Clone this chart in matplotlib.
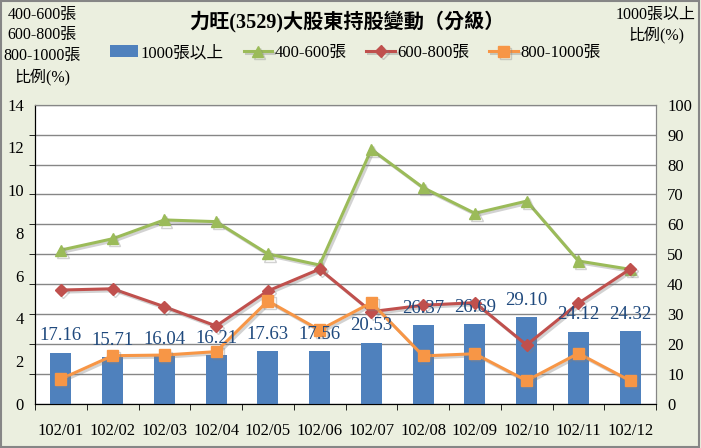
import matplotlib
matplotlib.use("Agg")
import matplotlib.pyplot as plt
import matplotlib.patheffects as pe
import numpy as np

plt.rcParams['font.family'] = ['Liberation Serif', 'Noto Sans CJK TC', 'DejaVu Sans']

categories = ["102/01", "102/02", "102/03", "102/04", "102/05", "102/06",
              "102/07", "102/08", "102/09", "102/10", "102/11", "102/12"]
big_1000 = [17.16, 15.71, 16.04, 16.21, 17.63, 17.56, 20.53, 26.37, 26.69, 29.10, 24.12, 24.32]
s_400_600 = [7.20, 7.73, 8.61, 8.53, 7.02, 6.50, 11.91, 10.12, 8.92, 9.49, 6.69, 6.30]
s_600_800 = [5.33, 5.39, 4.55, 3.65, 5.29, 6.31, 4.32, 4.62, 4.74, 2.76, 4.71, 6.31]
s_800_1000 = [1.17, 2.26, 2.29, 2.45, 4.82, 3.46, 4.74, 2.25, 2.35, 1.09, 2.37, 1.09]
left_ticks = [0, 2, 4, 6, 8, 10, 12, 14]
right_ticks = [0, 10, 20, 30, 40, 50, 60, 70, 80, 90, 100]

BG = "#EBEFDF"
fig = plt.figure(figsize=(7.01, 4.48), dpi=100, facecolor=BG)
W, H = 701, 448
ax = fig.add_axes([35 / W, 1 - 404 / H, (656 - 35) / W, (404 - 104.7) / H])
ax.set_facecolor("white")
ax2 = ax.twinx()

x = np.arange(len(categories))

# bars on right axis
bars = ax2.bar(x, big_1000, width=0.41, color="#4F81BD", zorder=2, label="1000張以上")
for xi, v in zip(x, big_1000):
    ax2.annotate(f"{v:.2f}", (xi, v), xytext=(0, 6), textcoords="offset points",
                 ha="center", va="bottom", fontsize=13.5, color="#1F497D",
                 family=['Liberation Serif'], zorder=6)
ax2.set_ylim(0, 100)
ax2.set_yticks(right_ticks)
ax2.tick_params(axis='y', length=0, labelsize=12, pad=8)
ax2.yaxis.grid(True, color="#868686", linewidth=1)
ax2.set_axisbelow(True)

# lines use the left axis scale (0-14); drawn on ax2 with conversion so they sit above bars
scale = 100 / 14
shadow = [pe.SimpleLineShadow(offset=(1.5, -1.5), alpha=0.35, shadow_color="gray"), pe.Normal()]
l1, = ax2.plot(x, np.array(s_400_600) * scale, color="#9BBB59", lw=2.2, marker="^", ms=8,
               zorder=4, path_effects=shadow, label="400-600張")
l2, = ax2.plot(x, np.array(s_600_800) * scale, color="#C0504D", lw=2.2, marker="D", ms=6,
               zorder=4, path_effects=shadow, label="600-800張")
l3, = ax2.plot(x, np.array(s_800_1000) * scale, color="#F79646", lw=2.2, marker="s", ms=8,
               zorder=5, path_effects=shadow, label="800-1000張")

ax.set_ylim(0, 14)
ax.set_yticks(left_ticks)
ax.set_yticks([v * 14 / 100 for v in right_ticks], minor=True)
ax.tick_params(axis='y', which='major', length=0, labelsize=12, pad=8)
ax.tick_params(axis='y', which='minor', length=4, color="black", direction="out")
ax.set_xlim(-0.5, len(categories) - 0.5)
ax.set_xticks(x)
ax.set_xticklabels(categories, fontsize=12)
ax.set_xticks(np.arange(len(categories) + 1) - 0.5, minor=True)
ax.tick_params(axis='x', which='major', length=0, pad=14)
ax.tick_params(axis='x', which='minor', length=4, direction="out")

for a in (ax, ax2):
    a.spines['top'].set_color("#868686")
    a.spines['right'].set_color("#868686")
    a.spines['left'].set_color("black")
    a.spines['bottom'].set_color("black")

fig.text(347 / W, 1 - 22 / H, "力旺(3529)大股東持股變動（分級）", ha="center", va="center",
         fontsize=14.5, fontweight="bold", family=['Liberation Serif', 'Noto Sans CJK TC'])

left_lines = ["400-600張", "600-800張", "800-1000張", "比例(%)"]
left_ys = [15, 35, 56, 77]
for t, yy in zip(left_lines, left_ys):
    fig.text(42 / W, 1 - yy / H, t, ha="center", va="center", fontsize=11.5)
right_lines = ["1000張以上", "比例(%)"]
right_ys = [15, 35]
for t, yy in zip(right_lines, right_ys):
    fig.text(656 / W, 1 - yy / H, t, ha="center", va="center", fontsize=11.5)

handles = [bars, l1, l2, l3]
labels = [h.get_label() for h in handles]
leg = fig.legend(handles, labels, loc="center", bbox_to_anchor=(355 / W, 1 - 53 / H), ncol=4,
                 frameon=False, fontsize=12, handlelength=1.7, columnspacing=1.2,
                 handletextpad=0.15)

# figure border
fig.patches.append(plt.Rectangle((0.002, 0.003), 0.995, 0.994, transform=fig.transFigure,
                                 fill=False, edgecolor="#868686", lw=1.5))

fig.savefig("out.png", dpi=100, facecolor=BG)
